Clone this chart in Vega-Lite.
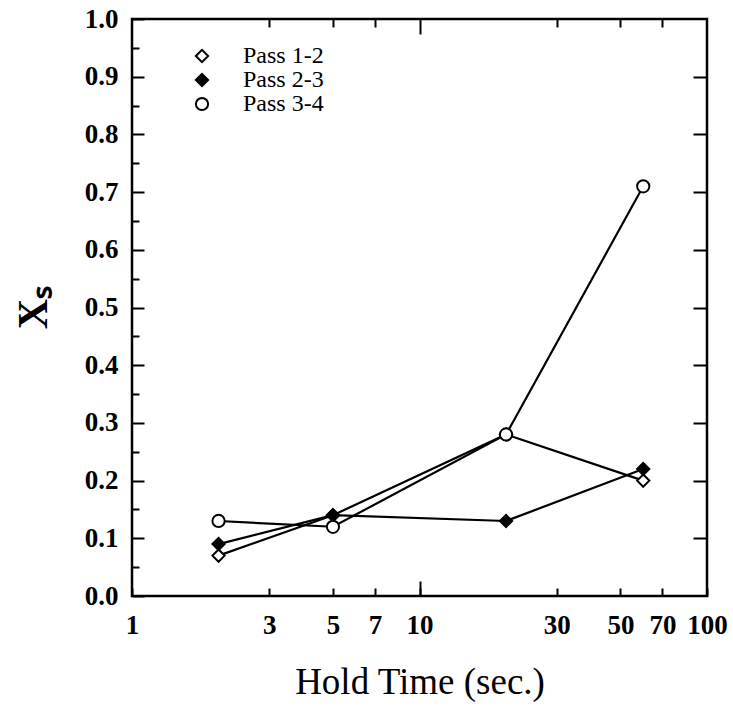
{
  "$schema": "https://vega.github.io/schema/vega-lite/v6.json",
  "width": 575,
  "height": 577,
  "autosize": {"type": "none"},
  "padding": {"left": 132, "top": 19, "right": 26, "bottom": 120},
  "background": "white",
  "config": {
    "view": {"stroke": "black", "strokeWidth": 2.5},
    "font": "Liberation Serif",
    "axis": {"domain": false, "grid": false, "tickColor": "black", "tickWidth": 2, "labelColor": "black", "titleColor": "black", "labelFont": "Liberation Serif", "titleFont": "Liberation Serif"},
    "legend": {"labelFont": "Liberation Serif", "labelColor": "black"}
  },
  "data": {
    "values": [
      {"series": "Pass 1-2", "time": 2, "xs": 0.07},
      {"series": "Pass 1-2", "time": 5, "xs": 0.14},
      {"series": "Pass 1-2", "time": 20, "xs": 0.28},
      {"series": "Pass 1-2", "time": 60, "xs": 0.20},
      {"series": "Pass 2-3", "time": 2, "xs": 0.09},
      {"series": "Pass 2-3", "time": 5, "xs": 0.14},
      {"series": "Pass 2-3", "time": 20, "xs": 0.13},
      {"series": "Pass 2-3", "time": 60, "xs": 0.22},
      {"series": "Pass 3-4", "time": 2, "xs": 0.13},
      {"series": "Pass 3-4", "time": 5, "xs": 0.12},
      {"series": "Pass 3-4", "time": 20, "xs": 0.28},
      {"series": "Pass 3-4", "time": 60, "xs": 0.71}
    ]
  },
  "resolve": {"axis": {"x": "independent", "y": "independent"}},
  "layer": [
    {
      "mark": {"type": "line", "stroke": "black", "strokeWidth": 2.2},
      "encoding": {
        "x": {
          "field": "time", "type": "quantitative",
          "scale": {"type": "log", "domain": [1, 100]},
          "axis": {
            "orient": "bottom", "values": [1, 3, 5, 7, 10, 30, 50, 70, 100], "format": "d",
            "tickSize": -8, "labelPadding": 24, "labelFontSize": 27, "labelFontWeight": "bold",
            "labelFlush": false, "labelOverlap": false,
            "title": "Hold Time (sec.)", "titleFontSize": 37, "titleFontWeight": "normal",
            "titleBaseline": "alphabetic", "titleY": 97
          }
        },
        "y": {
          "field": "xs", "type": "quantitative",
          "scale": {"domain": [0, 1]},
          "axis": {
            "orient": "left", "values": [0, 0.1, 0.2, 0.3, 0.4, 0.5, 0.6, 0.7, 0.8, 0.9, 1.0], "format": ".1f",
            "tickSize": -12, "labelPadding": 26, "labelFontSize": 27, "labelFontWeight": "bold",
            "labelFlush": false, "labelOverlap": false,
            "title": "Xₛ", "titleFontSize": 42, "titleFontWeight": "bold",
            "titleAngle": -90, "titleX": -99, "titleY": 288, "titleAlign": "center", "titleBaseline": "middle"
          }
        },
        "detail": {"field": "series"}
      }
    },
    {
      "mark": {"type": "point", "filled": true, "stroke": "black", "strokeWidth": 2, "opacity": 1},
      "encoding": {
        "x": {
          "field": "time", "type": "quantitative",
          "scale": {"type": "log", "domain": [1, 100]},
          "axis": {"orient": "top", "values": [3, 5, 7, 30, 50, 70], "tickSize": -8, "labels": false, "title": null}
        },
        "y": {
          "field": "xs", "type": "quantitative",
          "scale": {"domain": [0, 1]},
          "axis": {"orient": "right", "values": [0.1, 0.2, 0.3, 0.4, 0.5, 0.6, 0.7, 0.8, 0.9], "tickSize": -14, "labels": false, "title": null}
        },
        "shape": {
          "field": "series", "type": "nominal",
          "scale": {"domain": ["Pass 1-2", "Pass 2-3", "Pass 3-4"], "range": ["diamond", "diamond", "circle"]},
          "legend": {
            "title": null, "orient": "none", "legendX": 58, "legendY": 25,
            "labelFontSize": 24, "labelFontWeight": "normal", "labelOffset": 29,
            "rowPadding": -2, "symbolStrokeColor": "black", "symbolStrokeWidth": 2, "padding": 0
          }
        },
        "fill": {"field": "series", "type": "nominal", "scale": {"domain": ["Pass 1-2", "Pass 2-3", "Pass 3-4"], "range": ["white", "black", "white"]}},
        "size": {"field": "series", "type": "nominal", "scale": {"domain": ["Pass 1-2", "Pass 2-3", "Pass 3-4"], "range": [150, 150, 230]}},
        "order": {"field": "series", "type": "nominal"}
      }
    },
    {
      "mark": {"type": "point", "opacity": 0},
      "encoding": {
        "x": {
          "field": "time", "type": "quantitative",
          "scale": {"type": "log", "domain": [1, 100]},
          "axis": {"orient": "bottom", "values": [10], "tickSize": -15, "labels": false, "title": null}
        },
        "y": {
          "field": "xs", "type": "quantitative",
          "scale": {"domain": [0, 1]},
          "axis": {"orient": "left", "values": [0.05, 0.15, 0.25, 0.35, 0.45, 0.55, 0.65, 0.75, 0.85, 0.95], "tickSize": -7, "labels": false, "title": null}
        }
      }
    },
    {
      "mark": {"type": "point", "opacity": 0},
      "encoding": {
        "x": {
          "field": "time", "type": "quantitative",
          "scale": {"type": "log", "domain": [1, 100]},
          "axis": {"orient": "top", "values": [10], "tickSize": -15, "labels": false, "title": null}
        },
        "y": {"field": "xs", "type": "quantitative", "scale": {"domain": [0, 1]}, "axis": null}
      }
    }
  ]
}
